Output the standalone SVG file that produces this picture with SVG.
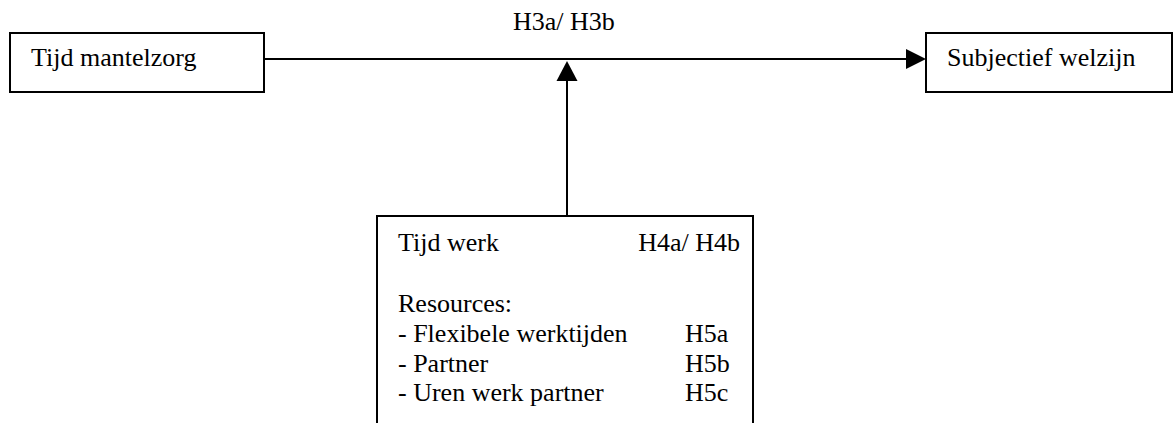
<svg xmlns="http://www.w3.org/2000/svg" width="1173" height="423" viewBox="0 0 1173 423">
<style>
.box{fill:#fff;stroke:#000;stroke-width:2}
.t{font-family:"Liberation Serif","Times New Roman",serif;font-size:26px;fill:#000}
.ln{stroke:#000;stroke-width:2;fill:none}
.ah{fill:#000}
</style>
<rect width="1173" height="423" fill="#fff"/>
<g id="connectors">
<line class="ln" x1="264" y1="59" x2="907" y2="59"/>
<polygon class="ah" points="906,49 926,59 906,69"/>
<line class="ln" x1="567" y1="216" x2="567" y2="80"/>
<polygon class="ah" points="556.5,81 577.5,81 567,61"/>
<text class="t" x="513" y="30">H3a/ H3b</text>
</g>
<g id="tijd-mantelzorg">
<rect class="box" x="10" y="33" width="254" height="59"/>
<text class="t" x="31" y="66">Tijd mantelzorg</text>
</g>
<g id="subjectief-welzijn">
<rect class="box" x="926" y="33" width="246" height="59"/>
<text class="t" x="947" y="66">Subjectief welzijn</text>
</g>
<g id="moderators">
<rect class="box" x="377" y="216" width="376" height="230"/>
<text class="t" x="398" y="251">Tijd werk</text>
<text class="t" x="740" y="251" text-anchor="end">H4a/ H4b</text>
<text class="t" x="398" y="312">Resources:</text>
<text class="t" x="398" y="342">- Flexibele werktijden</text>
<text class="t" x="685" y="342">H5a</text>
<text class="t" x="398" y="372">- Partner</text>
<text class="t" x="685" y="372">H5b</text>
<text class="t" x="398" y="401">- Uren werk partner</text>
<text class="t" x="685" y="401">H5c</text>
</g>
</svg>
